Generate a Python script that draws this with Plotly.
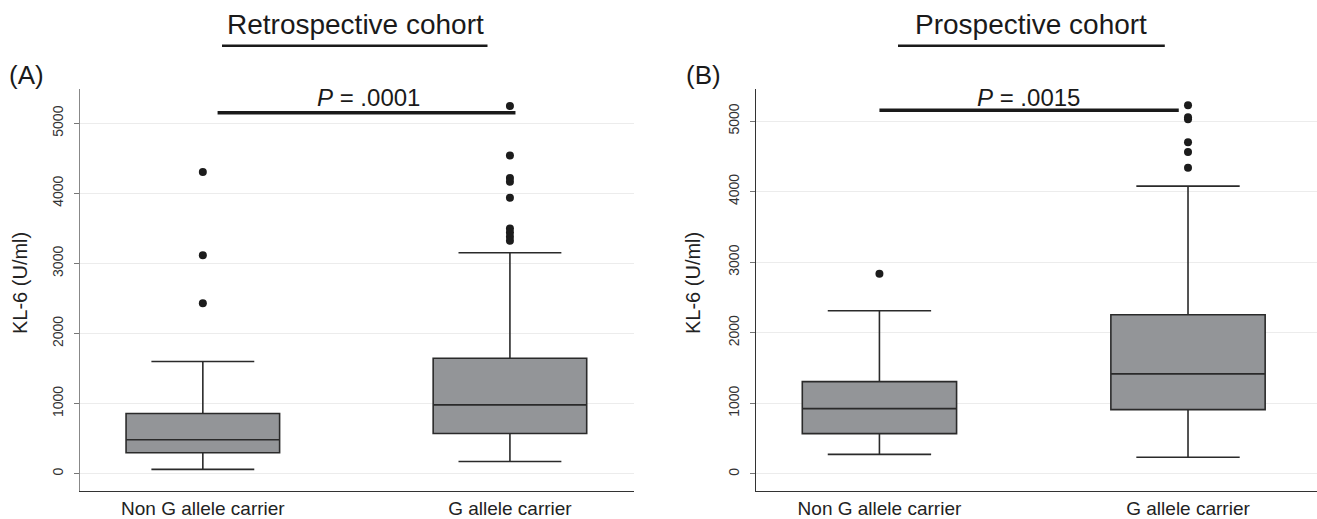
import plotly.graph_objects as go

# ---------------- data ----------------
groups = ["Non G allele carrier", "G allele carrier"]
group_pos = [0, 1]

# Retrospective cohort (A)
retro_q1 = [300, 574]
retro_median = [484, 983]
retro_q3 = [859, 1648]
retro_low = [62, 175]
retro_high = [1600, 3152]
retro_out_non = [4306, 3115, 2432]
retro_out_g = [5246, 4540, 4217, 4164, 3936, 3500, 3443, 3380, 3323]
retro_p = "<i>P</i> = .0001"

# Prospective cohort (B)
pros_q1 = [572, 912]
pros_median = [926, 1418]
pros_q3 = [1309, 2255]
pros_low = [278, 236]
pros_high = [2312, 4078]
pros_out_non = [2837]
pros_out_g = [5224, 5055, 5025, 4700, 4562, 4338]
pros_p = "<i>P</i> = .0015"

titles = ["Retrospective cohort", "Prospective cohort"]
panel_labels = ["(A)", "(B)"]
y_title = "KL-6 (U/ml)"
y_ticks = [0, 1000, 2000, 3000, 4000, 5000]
pbar_y = [5150, 5153]
pbar_x = [[0.048, 1.018], [0.0, 0.97]]

# ---------------- style ----------------
FONT = "Liberation Sans, Arial, Helvetica, sans-serif"
BOX_FILL = "#939598"
BOX_LINE = "#2a2a2a"
DOT = "#1c1c1c"
W, H = 1317, 519

fig = go.Figure()

def add_panel(xa, ya, q1, med, q3, lo, hi, out_non, out_g):
    fig.add_trace(go.Box(
        x=group_pos, q1=q1, median=med, q3=q3,
        lowerfence=lo, upperfence=hi,
        boxpoints=False, width=0.5, whiskerwidth=0.67,
        fillcolor=BOX_FILL, line=dict(color=BOX_LINE, width=1.6),
        xaxis=xa, yaxis=ya, showlegend=False, hoverinfo="skip",
    ))
    xs = [group_pos[0]] * len(out_non) + [group_pos[1]] * len(out_g)
    ys = list(out_non) + list(out_g)
    fig.add_trace(go.Scatter(
        x=xs, y=ys, mode="markers",
        marker=dict(color=DOT, size=8, line=dict(width=0)),
        xaxis=xa, yaxis=ya, showlegend=False, hoverinfo="skip",
    ))

add_panel("x", "y", retro_q1, retro_median, retro_q3, retro_low, retro_high,
          retro_out_non, retro_out_g)
add_panel("x2", "y2", pros_q1, pros_median, pros_q3, pros_low, pros_high,
          pros_out_non, pros_out_g)

ydom = [(H - 490.7) / H, (H - 89.3) / H]

def xaxis_cfg(domain, rng):
    return dict(
        domain=domain, range=rng, tickmode="array", tickvals=group_pos,
        ticktext=groups, showgrid=False, zeroline=False,
        showline=True, linecolor="#333333", linewidth=1.2,
        ticks="", tickfont=dict(family=FONT, size=19, color="#222222"),
        automargin=False, fixedrange=True,
    )

def yaxis_cfg(anchor, rng, linecolor):
    return dict(
        domain=ydom, range=rng, anchor=anchor, tickmode="array",
        tickvals=y_ticks, tickangle=-90, showgrid=True,
        gridcolor="#ececec", gridwidth=1, zeroline=False,
        showline=True, linecolor=linecolor, linewidth=1.2,
        ticks="outside", ticklen=5, tickcolor="#777777", tickwidth=1,
        ticklabelstandoff=5,
        tickfont=dict(family=FONT, size=14, color="#333333"),
        automargin=False, fixedrange=True,
    )

fig.update_layout(
    width=W, height=H,
    margin=dict(l=0, r=0, t=0, b=0),
    paper_bgcolor="white", plot_bgcolor="white",
    font=dict(family=FONT),
    xaxis=dict(xaxis_cfg([80 / W, 634 / W], [-0.4, 1.404]), anchor="y"),
    yaxis=yaxis_cfg("x", [-242, 5484], "#888888"),
    xaxis2=dict(xaxis_cfg([756 / W, 1.0], [-0.4, 1.418]), anchor="y2"),
    yaxis2=yaxis_cfg("x2", [-237, 5450], "#333333"),
)

# p-value bars
for i, (xa, ya) in enumerate([("x", "y"), ("x2", "y2")]):
    fig.add_shape(type="line", xref=xa, yref=ya,
                  x0=pbar_x[i][0], x1=pbar_x[i][1], y0=pbar_y[i], y1=pbar_y[i],
                  line=dict(color="#1a1a1a", width=3.5))

p_texts = [retro_p, pros_p]
p_x = [368 / W, 1028 / W]
title_x = [355 / W, 1030.5 / W]
underline = [[222 / W, 487.5 / W], [898 / W, 1164.8 / W]]
label_x = [7 / W, 684 / W]

for i in range(2):
    fig.add_annotation(text=p_texts[i], xref="paper", yref="paper",
                       x=p_x[i], y=1 - 97 / H, showarrow=False,
                       xanchor="center", yanchor="middle",
                       font=dict(family=FONT, size=24, color="#1a1a1a"))
    fig.add_annotation(text=titles[i], xref="paper", yref="paper",
                       x=title_x[i], y=1 - 25 / H, showarrow=False,
                       xanchor="center", yanchor="middle",
                       font=dict(family=FONT, size=28, color="#1a1a1a"))
    fig.add_shape(type="line", xref="paper", yref="paper",
                  x0=underline[i][0], x1=underline[i][1],
                  y0=1 - 45.7 / H, y1=1 - 45.7 / H,
                  line=dict(color="#1a1a1a", width=2.5))
    fig.add_annotation(text=panel_labels[i], xref="paper", yref="paper",
                       x=label_x[i], y=1 - 75 / H, showarrow=False,
                       xanchor="left", yanchor="middle",
                       font=dict(family=FONT, size=26, color="#1a1a1a"))

y_title_x = [20 / W, 693 / W]
for i in range(2):
    fig.add_annotation(text=y_title, xref="paper", yref="paper",
                       x=y_title_x[i], y=1 - 283 / H, showarrow=False,
                       textangle=-90, xanchor="center", yanchor="middle",
                       font=dict(family=FONT, size=20, color="#222222"))

fig.write_html(
    "out.html",
    config={"displayModeBar": False},
    post_script="document.body.style.margin='0';document.body.style.padding='0';"
                "document.documentElement.style.overflow='hidden';",
)
